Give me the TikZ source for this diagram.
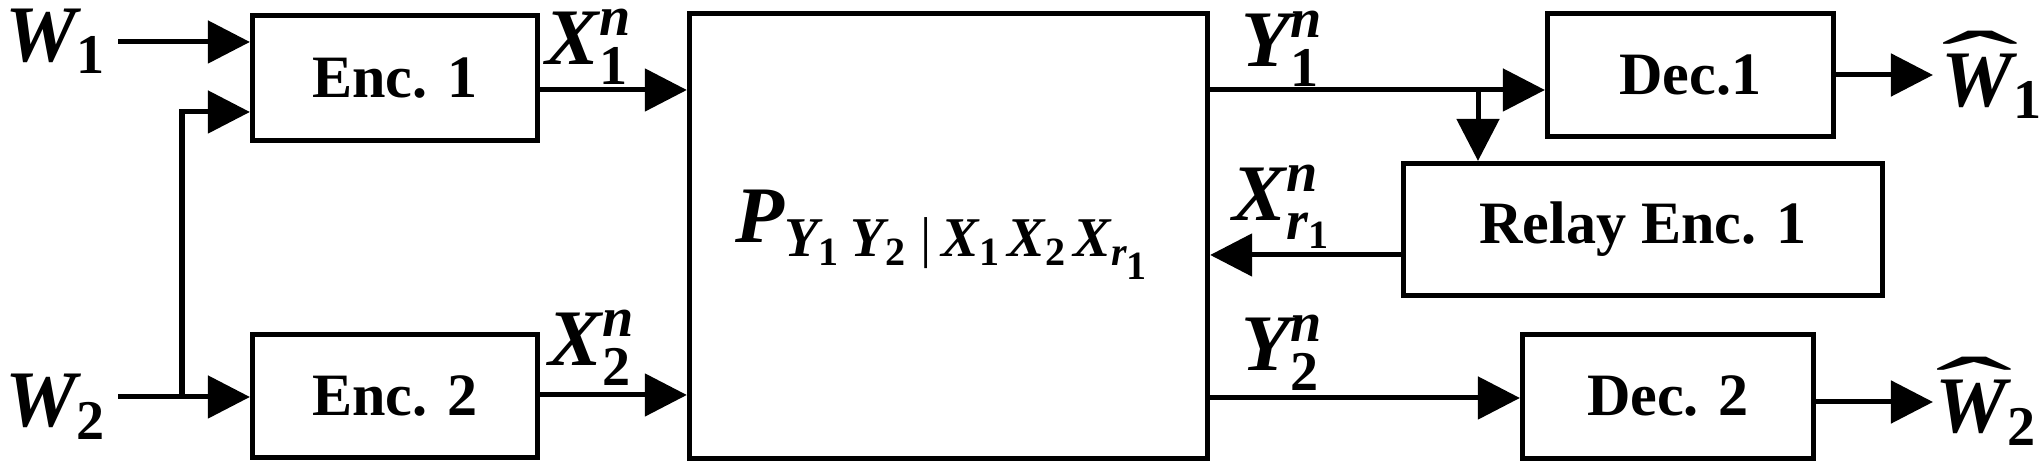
\documentclass[tikz,border=0pt]{standalone}
\usepackage{amsmath}
\usepackage{graphicx}
\usepackage{fontspec}
\setmainfont{Liberation Serif}
\usetikzlibrary{arrows.meta}
\newcommand\mv[1]{\text{\bfseries\itshape #1}}
\newcommand\md[1]{\text{\bfseries #1}}
\newcommand\hatW{\mbox{\rlap{\raisebox{0.18em}{\scalebox{2.9}[1.1]{\char"02C6}}}\bfseries\itshape W}}
\begin{document}
\begin{tikzpicture}[x=0.01cm,y=-0.01cm,
  blk/.style={draw,line width=0.05cm,inner sep=0pt,font=\fontsize{17.1}{20}\selectfont\bfseries},
  lbl/.style={inner sep=0pt,anchor=base west,font=\fontsize{22.8}{27}\selectfont},
  arr/.style={line width=0.05cm,-{Triangle[length=0.42cm,width=0.42cm]}}]
\useasboundingbox (0,0) rectangle (2044,468);
% blocks
\node[blk,minimum width=2.85cm,minimum height=1.25cm] (enc1) at (395,78) {Enc. 1};
\node[blk,minimum width=2.85cm,minimum height=1.23cm] (enc2) at (395,396) {Enc. 2};
\node[blk,minimum width=5.18cm,minimum height=4.45cm] (chan) at (948.5,236) {};
\node[blk,minimum width=2.86cm,minimum height=1.23cm] (dec1) at (1690.5,75) {Dec.1};
\node[blk,minimum width=4.79cm,minimum height=1.32cm] (relay) at (1643,229.5) {Relay Enc. 1};
\node[blk,minimum width=2.91cm,minimum height=1.24cm] (dec2) at (1668,396.5) {Dec. 2};
% labels
\node[lbl] (w1) at (5,62) {$\mv{W}_{\md{1}}$};
\node[lbl] (w2) at (5,427) {$\mv{W}_{\md{2}}$};
\node[lbl] (x1) at (545,65) {$\mv{X}^{\mv{n}}_{\md{1}}$};
\node[lbl] (x2) at (548,366) {$\mv{X}^{\mv{n}}_{\md{2}}$};
\node[lbl] (p) at (735,243) {$\mv{P}_{\mv{Y}_{\md{1}}\mkern3mu\mv{Y}_{\md{2}}\mkern4mu\text{|}\mkern3mu\mv{X}_{\md{1}}\mkern2mu\mv{X}_{\md{2}}\mkern2mu\mv{X}_{\mv{r}_{\md{1}}}}$};
\node[lbl] (y1) at (1241,67) {$\mv{Y}^{\mv{n}}_{\md{1}}$};
\node[lbl] (xr) at (1232,221) {$\mv{X}^{\mv{n}}_{\mv{r}_{\md{1}}}$};
\node[lbl] (y2) at (1241,371) {$\mv{Y}^{\mv{n}}_{\md{2}}$};
\node[lbl] (wh1) at (1941,107) {$\hatW_{\md{1}}$};
\node[lbl] (wh2) at (1935,433) {$\hatW_{\md{2}}$};
% coordinates
\coordinate (w1o) at (118,42);
\coordinate (w2o) at (118,397);
\coordinate (bx) at (182,112);
\coordinate (ya) at (0,90);
\coordinate (yb) at (0,395);
\coordinate (br) at (1478,90);
\coordinate (yr) at (0,255);
\coordinate (yc) at (0,398);
\coordinate (o1) at (1933,75);
\coordinate (o2) at (1933,402);
% connectors
\draw[arr] (w1o) -- (w1o -| enc1.west);
\draw[arr] (w2o) -- (w2o -| enc2.west);
\draw[arr] (w2o -| bx) -- (bx) -- (bx -| enc1.west);
\draw[arr] (enc1.east |- ya) -- (chan.west |- ya);
\draw[arr] (enc2.east |- yb) -- (chan.west |- yb);
\draw[arr] (chan.east |- ya) -- (dec1.west |- ya);
\draw[arr] (br) -- (br |- relay.north);
\draw[arr] (relay.west |- yr) -- (chan.east |- yr);
\draw[arr] (chan.east |- yc) -- (dec2.west |- yc);
\draw[arr] (dec1.east |- o1) -- (o1);
\draw[arr] (dec2.east |- o2) -- (o2);
\end{tikzpicture}
\end{document}
